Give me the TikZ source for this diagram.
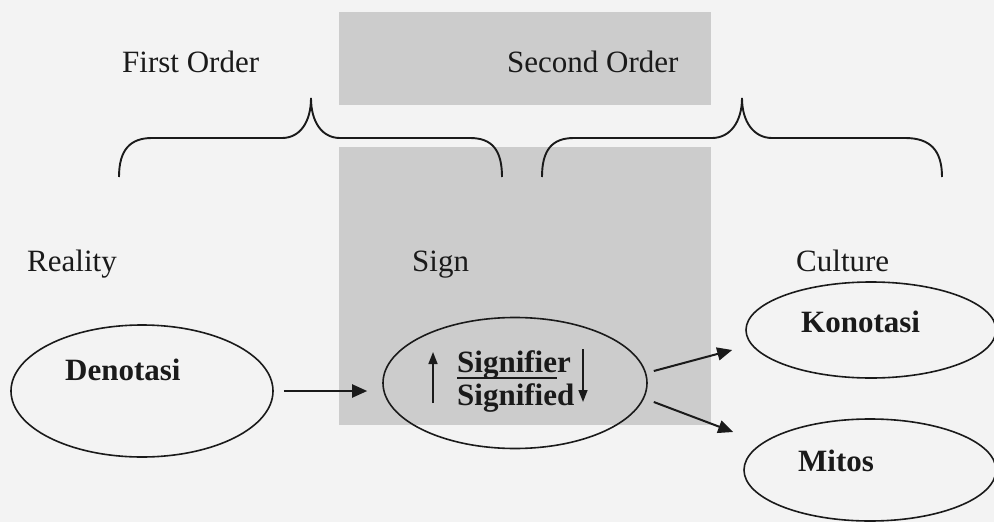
\documentclass[tikz,border=0pt]{standalone}
\usepackage{fontspec}
\setmainfont{Liberation Serif}
\usetikzlibrary{calc,shapes.geometric,arrows.meta}
\definecolor{paper}{HTML}{F3F3F3}
\definecolor{panel}{HTML}{CCCCCC}
\definecolor{ink}{HTML}{1A1A1A}

\begin{document}
\begin{tikzpicture}[x=1pt,y=-1pt,
  oval/.style={draw=ink, line width=1.6pt, ellipse, inner sep=0pt},
  lbl/.style={anchor=base west, inner sep=0pt, text=ink, font=\fontsize{31}{36}\selectfont},
  term/.style={lbl, font=\fontsize{31}{36}\selectfont\bfseries},
  arr/.style={draw=ink, line width=2pt, -{Triangle[length=15pt,width=13pt]}},
  tick/.style={draw=ink, line width=1.6pt, -{Triangle[length=12pt,width=9pt]}}]
\fill[paper] (0,0) rectangle (994,522);
\useasboundingbox (0,0) rectangle (994,522);
% shaded panels
\fill[panel] (339,12) rectangle (711,105);
\fill[panel] (339,147) rectangle (711,425);
% order labels and braces
\node[lbl] (first) at (122,72) {First Order};
\node[lbl] (second) at (507,72) {Second Order};
\draw[ink, line width=1.9pt] (119,177) .. controls (119,150) and (130,138) .. (152,138)
  -- (282,138) .. controls (300,138) and (311,122) .. (311,98)
  .. controls (311,122) and (322,138) .. (340,138)
  -- (470,138) .. controls (492,138) and (502,150) .. (502,177);
\draw[ink, line width=1.9pt] (542,177) .. controls (542,150) and (552,138) .. (574,138)
  -- (712,138) .. controls (730,138) and (742,122) .. (742,98)
  .. controls (742,122) and (754,138) .. (772,138)
  -- (905,138) .. controls (930,138) and (942,150) .. (942,177);
% level labels
\node[lbl] (reality) at (27,271) {Reality};
\node[lbl] (signlbl) at (412,271) {Sign};
\node[lbl] (culture) at (796,271) {Culture};
% ovals
\node[oval, minimum width=262pt, minimum height=132pt] (den) at (142,391) {};
\node[oval, minimum width=264pt, minimum height=131pt] (sign) at (515,383) {};
\node[oval, minimum width=250pt, minimum height=96pt] (kon) at (871,330) {};
\node[oval, minimum width=252pt, minimum height=102pt] (mit) at (870,470) {};
\node[term] (dentext) at (65,380) {Denotasi};
\node[term] (kontext) at (801,332) {Konotasi};
\node[term] (mittext) at (798,471) {Mitos};
\node[term] (sigr) at (457,372) {Signifier};
\node[term] (sigd) at (457,405) {Signified};
\draw[ink, line width=1.6pt] ($(sigr.base west)+(0,6)$) -- ($(sigr.base west)+(100,6)$);
\draw[tick] ($(sign.center)+(-82,20)$) -- ($(sign.center)+(-82,-31)$);
\draw[tick] ($(sign.center)+(68,-34)$) -- ($(sign.center)+(68,19)$);
% connectors
\draw[arr, shorten <=10pt, shorten >=15pt] (den.east) -- (den.east -| sign.west);
\draw[arr] ($(sign.east)+(6,-12)$) -- ($(kon.west)+(-13,20)$);
\draw[arr] ($(sign.east)+(6,19)$) -- ($(mit.west)+(-10,-38)$);
\end{tikzpicture}
\end{document}
